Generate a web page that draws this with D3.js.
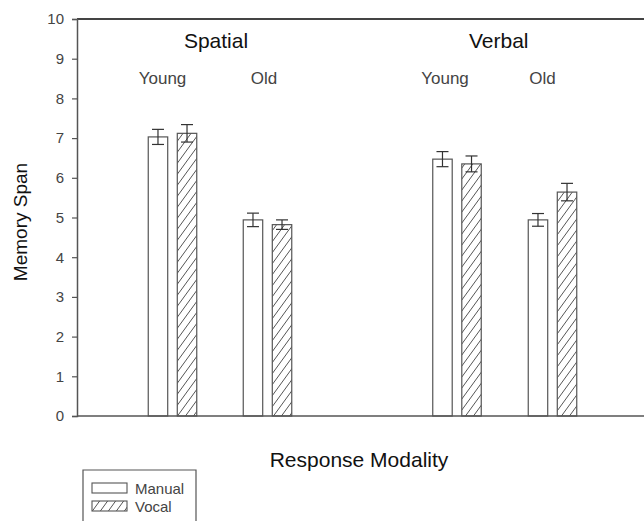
<!DOCTYPE html>
<html><head><meta charset="utf-8">
<script src="https://cdn.jsdelivr.net/npm/d3@7"></script>
<style>body{margin:0;background:#fff}svg{display:block}text{font-family:"Liberation Sans",Arial,sans-serif}</style>
</head><body>
<script>
const modalities = ["Spatial", "Verbal"];
const ageGroups = ["Young", "Old"];
const series = ["Manual", "Vocal"];
// values per modality/age: [Manual, Vocal]
const spatialYoung = [7.03, 7.12];
const spatialOld = [4.94, 4.82];
const verbalYoung = [6.47, 6.35];
const verbalOld = [4.94, 5.64];
const spatialYoungErr = [0.19, 0.22];
const spatialOldErr = [0.17, 0.12];
const verbalYoungErr = [0.19, 0.20];
const verbalOldErr = [0.16, 0.22];
const yTicks = [0,1,2,3,4,5,6,7,8,9,10];

const groups = [
  {mod:"Spatial", age:"Young", vals:spatialYoung, err:spatialYoungErr},
  {mod:"Spatial", age:"Old", vals:spatialOld, err:spatialOldErr},
  {mod:"Verbal", age:"Young", vals:verbalYoung, err:verbalYoungErr},
  {mod:"Verbal", age:"Old", vals:verbalOld, err:verbalOldErr}
];

const W=644,H=521;
const svg=d3.select("body").append("svg").attr("width",W).attr("height",H);
const defs=svg.append("defs");
const pat=defs.append("pattern").attr("id","hatch").attr("patternUnits","userSpaceOnUse")
  .attr("width",8).attr("height",11);
pat.append("rect").attr("width",8).attr("height",11).attr("fill","#fff");
pat.append("path").attr("d","M0,11 L8,0 M-8,11 L0,0 M8,11 L16,0").attr("stroke","#555").attr("stroke-width",1);

const x0=77, yTop=19, yBot=416;
const y=d3.scaleLinear().domain([0,10]).range([yBot,yTop]);

// group centers
const gx=d3.scaleOrdinal().domain(groups.map(g=>g.mod+g.age)).range([172.5,267.5,457,552.5]);
const bx=d3.scaleBand().domain(series).range([-24.25,24.25]).paddingInner(0.33).paddingOuter(0);
const ageLabelShift={SpatialYoung:-10,SpatialOld:-3.5,VerbalYoung:-12,VerbalOld:-10};

const ink="#555";
// frame: top line
svg.append("line").attr("x1",x0).attr("x2",W).attr("y1",yTop).attr("y2",yTop).attr("stroke","#444").attr("stroke-width",1.8);

const yAxis=d3.axisLeft(y).tickValues(yTicks).tickSize(5).tickPadding(8).tickFormat(d3.format("d"));
const ga=svg.append("g").attr("transform",`translate(${x0},0)`).call(yAxis);
ga.select(".domain").attr("stroke",ink).attr("stroke-width",1.5);
ga.selectAll(".tick line").attr("stroke",ink).attr("stroke-width",1.2);
ga.selectAll(".tick text").attr("fill","#444").attr("font-size",15).attr("font-family","Liberation Sans, Arial, sans-serif");

// bars
groups.forEach(g=>{
  const cx=gx(g.mod+g.age);
  series.forEach((s,i)=>{
    const bx0=cx+bx(s), w=bx.bandwidth();
    svg.append("rect").attr("x",bx0).attr("y",y(g.vals[i])).attr("width",w).attr("height",y(0)-y(g.vals[i]))
      .attr("fill",i===0?"#fff":"url(#hatch)").attr("stroke",ink).attr("stroke-width",1.2);
    const mx=bx0+w/2, hi=y(g.vals[i]+g.err[i]), lo=y(g.vals[i]-g.err[i]);
    const eb=svg.append("g").attr("stroke","#333").attr("stroke-width",1.2);
    eb.append("line").attr("x1",mx).attr("x2",mx).attr("y1",hi).attr("y2",lo);
    eb.append("line").attr("x1",mx-6).attr("x2",mx+6).attr("y1",hi).attr("y2",hi);
    eb.append("line").attr("x1",mx-6).attr("x2",mx+6).attr("y1",lo).attr("y2",lo);
  });
  svg.append("text").attr("x",cx+ageLabelShift[g.mod+g.age]).attr("y",84).attr("text-anchor","middle").attr("font-size",17).attr("fill","#444").text(g.age);
});

// x axis line
svg.append("line").attr("x1",x0).attr("x2",W).attr("y1",yBot).attr("y2",yBot).attr("stroke",ink).attr("stroke-width",1.5);

// modality labels
const modX={Spatial:(gx("SpatialYoung")+gx("SpatialOld"))/2-4, Verbal:(gx("VerbalYoung")+gx("VerbalOld"))/2-6};
modalities.forEach(m=>{
  svg.append("text").attr("x",modX[m]).attr("y",48).attr("text-anchor","middle").attr("font-size",21).attr("fill","#111").text(m);
});

// axis titles
svg.append("text").attr("transform","translate(27,222) rotate(-90)").attr("text-anchor","middle").attr("font-size",19).attr("fill","#111").text("Memory Span");
svg.append("text").attr("x",359).attr("y",467).attr("text-anchor","middle").attr("font-size",21).attr("fill","#111").text("Response Modality");

// legend
svg.append("path").attr("d","M83,521 L83,470 L196,470 L196,521").attr("fill","none").attr("stroke",ink).attr("stroke-width",1.2);
series.forEach((s,i)=>{
  const yy=483+i*18;
  svg.append("rect").attr("x",92).attr("y",yy).attr("width",35).attr("height",10)
    .attr("fill",i===0?"#fff":"url(#hatch)").attr("stroke",ink).attr("stroke-width",1.1);
  svg.append("text").attr("x",135).attr("y",yy+10.5).attr("font-size",15).attr("fill","#444").text(s);
});
</script>
</body></html>
